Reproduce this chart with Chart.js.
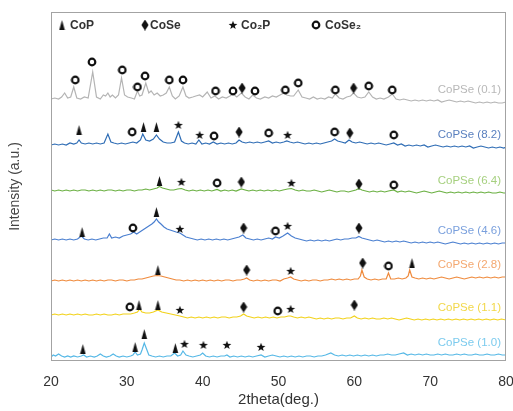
<!DOCTYPE html>
<html lang="en">
<head>
<meta charset="UTF-8">
<title>XRD CoPSe</title>
<script src="https://cdn.jsdelivr.net/npm/chart.js"></script>
<style>
  html, body { margin: 0; padding: 0; background: #fff; }
  #wrap { width: 513px; height: 411px; }
</style>
</head>
<body>
<div id="wrap"><canvas id="xrd" width="513" height="411"></canvas></div>
<script>
// series names (top to bottom)
const seriesNames = ['CoPSe (0.1)', 'CoPSe (8.2)', 'CoPSe (6.4)', 'CoPSe (4.6)', 'CoPSe (2.8)', 'CoPSe (1.1)', 'CoPSe (1.0)'];
const lineColors  = ['#b4b4b4', '#2f6db5', '#6bb043', '#4a7fd0', '#ef8a3c', '#f2d21b', '#55b8e6'];
const labelColors = ['#b8b8b8', '#5a80bf', '#a6d07f', '#7aa0dd', '#f4a870', '#f2d84a', '#7ccbee'];
const phaseNames = ['CoP', 'CoSe', 'Co\u2082P', 'CoSe\u2082'];

// [2theta, intensity (a.u., already stacked)]
const copse01 = [[20,262],[20.5,263],[21,262],[21.4,264],[21.8,268],[22.2,263],[22.6,264],[23,274],[23.4,263],[23.9,262],[24.4,264],[24.9,263],[25.5,289],[26,264],[26.5,262],[26.9,266],[27.2,265],[27.5,268],[27.8,264],[28.1,266],[28.5,263],[28.9,266],[29.3,283],[29.7,266],[30.1,264],[30.6,263],[31,262],[31.4,270],[31.7,265],[32,266],[32.5,278],[32.9,268],[33.2,270],[33.6,266],[34,268],[34.4,265],[34.8,266],[35.2,268],[35.6,274],[36,265],[36.4,262],[36.9,265],[37.4,274],[37.8,265],[38.2,263],[38.7,264],[39.1,265],[39.6,266],[40,264],[40.6,269],[41.1,263],[41.6,265],[42.1,262],[42.6,264],[43.1,263],[43.6,265],[44,267],[44.5,264],[45.1,268],[45.6,264],[46.1,262],[46.6,266],[47.1,263],[47.6,262],[48.2,264],[48.7,263],[49.2,265],[49.7,264],[50.2,266],[50.7,268],[51.1,266],[51.6,265],[52,265],[52.6,271],[53.1,264],[53.6,263],[54.1,262],[54.6,264],[55.1,262],[55.6,263],[56.1,262],[56.6,264],[57.1,263],[57.5,267],[58,263],[58.5,262],[59,264],[59.5,265],[59.9,268],[60.4,264],[60.9,263],[61.4,264],[61.9,269],[62.4,264],[62.9,262],[63.4,263],[63.9,262],[64.5,264],[65,267],[65.5,262],[66,261],[66.5,262],[67,261],[67.5,260],[68,261],[68.5,260],[69,261],[69.5,260],[70,261],[70.5,260],[71,261],[71.5,259],[72,260],[72.5,261],[73,260],[73.5,259],[74,260],[74.5,259],[75,260],[75.5,259],[76,258],[76.5,259],[77,258],[77.5,259],[78,258],[78.5,259],[79,258],[79.5,258],[80,259]];
const copse82 = [[20,216],[20.5,217],[21,216],[21.5,217],[22,216],[22.5,218],[23,217],[23.4,218],[23.7,221],[24,218],[24.5,217],[25,218],[25.5,217],[26,218],[26.5,217],[27,218],[27.5,227],[27.9,219],[28.3,218],[28.8,217],[29.3,218],[29.8,217],[30.3,218],[30.8,219],[31.3,218],[31.8,221],[32.1,227],[32.5,221],[33,220],[33.5,222],[33.9,226],[34.3,222],[34.8,219],[35.3,218],[35.8,218],[36.3,219],[36.8,229],[37.2,220],[37.6,218],[38.1,217],[38.6,218],[39.1,217],[39.5,221],[39.9,217],[40.4,218],[40.9,217],[41.4,219],[41.9,217],[42.4,218],[42.9,217],[43.4,218],[43.9,217],[44.4,218],[44.8,221],[45.2,219],[45.7,218],[46.2,219],[46.7,218],[47.2,219],[47.7,218],[48.2,219],[48.7,220],[49.2,218],[49.7,219],[50.2,218],[50.7,219],[51.1,220],[51.5,219],[52,218],[52.5,219],[53,218],[53.5,217],[54,218],[54.5,217],[55,218],[55.5,217],[56,218],[56.5,219],[57,220],[57.4,222],[57.8,220],[58.3,219],[58.8,218],[59.3,221],[59.7,219],[60.2,218],[60.7,219],[61.2,218],[61.7,217],[62.2,218],[62.7,217],[63.2,218],[63.7,217],[64.2,216],[64.7,217],[65.2,218],[65.7,216],[66.2,217],[66.7,215],[67.2,216],[67.7,215],[68.2,216],[68.7,215],[69.2,216],[69.7,214],[70.2,215],[70.7,216],[71.2,215],[71.7,214],[72.2,215],[72.7,214],[73.2,215],[73.7,214],[74.2,215],[74.7,214],[75.2,215],[75.7,213],[76.2,214],[76.7,215],[77.2,214],[77.7,213],[78.2,214],[78.7,213],[79.2,214],[79.7,213],[80,214]];
const copse64 = [[20,171],[20.5,170],[21,171],[21.5,170],[22,171],[22.5,170],[23,171],[23.5,170],[24,171],[24.5,171],[25,170],[25.5,171],[26,170],[26.5,171],[27,170],[27.5,171],[28,171],[28.5,170],[29,171],[29.5,170],[30,171],[30.5,171],[31,170],[31.5,171],[32,171],[32.5,172],[33,171],[33.5,172],[34,173],[34.3,174.5],[34.7,173],[35.2,172],[35.7,171],[36.2,171],[36.7,172],[37.2,172.5],[37.7,171],[38.2,170],[38.7,171],[39.2,170],[39.7,171],[40.2,170],[40.7,171],[41.2,170],[41.9,171.5],[42.4,170],[42.9,171],[43.4,170],[43.9,171],[44.4,170],[45.1,172],[45.6,171],[46.1,170],[46.6,171],[47.1,170],[47.6,171],[48.1,170],[48.6,171],[49.1,170],[49.6,171],[50.1,170],[50.6,171],[51.2,172],[51.7,172.5],[52.2,171],[52.7,170],[53.2,171],[53.7,170],[54.2,170],[54.7,171],[55.2,170],[55.7,169],[56.2,170],[56.7,171],[57.2,170],[57.7,169],[58.2,170],[58.7,170],[59.2,169],[59.7,170],[60.2,171],[60.6,172.5],[61,171],[61.5,170],[62,169],[62.5,170],[63,169],[63.5,170],[64,169],[64.5,170],[65.2,171],[65.7,169],[66.2,170],[66.7,169],[67.2,170],[67.7,169],[68.2,168],[68.7,169],[69.2,170],[69.7,169],[70.2,168],[70.7,169],[71.2,170],[71.7,169],[72.2,168],[72.7,169],[73.2,168],[73.7,169],[74.2,168],[74.7,169],[75.2,168],[75.7,169],[76.2,168],[76.7,169],[77.2,168],[77.7,169],[78.2,168],[78.7,168],[79.2,169],[79.7,168],[80,168]];
const copse46 = [[20,121],[20.5,122],[21,121],[21.5,122],[22,121],[22.5,122],[23,121],[23.5,122],[24,125],[24.4,122],[24.9,121],[25.4,122],[25.9,121],[26.4,122],[26.9,123],[27.4,123],[27.7,127],[28,123],[28.5,124],[29,123],[29.5,125],[30,126],[30.5,127],[30.9,129],[31.3,127],[31.7,129],[32.1,131],[32.5,133],[32.9,135],[33.3,137],[33.6,139],[33.9,142],[34.2,139],[34.5,137],[34.9,134],[35.3,132],[35.7,131],[36.1,130],[36.5,129],[37,128],[37.4,126],[37.8,124],[38.3,123],[38.8,122],[39.3,121],[39.8,122],[40.3,121],[40.8,122],[41.3,121],[41.8,122],[42.3,121],[42.8,122],[43.3,121],[43.8,122],[44.3,123],[44.8,124],[45.3,126],[45.7,123],[46.2,122],[46.7,121],[47.2,122],[47.7,121],[48.2,122],[48.7,123],[49.2,122],[49.6,124],[50.1,123],[50.6,125],[51.2,128],[51.7,125],[52.2,123],[52.7,122],[53.2,121],[53.7,120],[54.2,121],[54.7,120],[55.2,121],[55.7,120],[56.2,121],[56.7,120],[57.2,121],[57.7,122],[58.2,121],[58.7,122],[59.2,122],[59.7,123],[60.2,123],[60.6,124.5],[61,123],[61.5,122],[62,121],[62.5,120],[63,121],[63.5,120],[64,119],[64.5,120],[65,119],[65.5,120],[66,119],[66.5,120],[67,119],[67.5,118],[68,119],[68.5,118],[69,119],[69.5,118],[70,119],[70.5,118],[71,119],[71.5,118],[72,117],[72.5,118],[73,119],[73.5,118],[74,117],[74.5,118],[75,117],[75.5,118],[76,117],[76.5,118],[77,117],[77.5,118],[78,117],[78.5,118],[79,117],[79.5,118],[80,118]];
const copse28 = [[20,80],[20.5,81],[21,80],[21.5,81],[22,80],[22.5,81],[23,80],[23.5,81],[24,80],[24.5,81],[25,80],[25.5,81],[26,80],[26.5,81],[27,80],[27.5,81],[28,81],[28.5,80],[29,81],[29.5,81],[30,80],[30.5,81],[31,81],[31.5,82],[32,82],[32.5,83],[33,84],[33.5,85],[34,85.5],[34.5,85],[35,84],[35.5,83],[36,82],[36.5,81],[37,81],[37.5,80],[38,81],[38.5,80],[39,81],[39.5,80],[40,81],[40.5,80],[41,81],[41.5,80],[42,81],[42.5,80],[43,81],[43.5,81],[44,80],[44.5,81],[45,81],[45.5,82],[45.8,83],[46.2,81],[46.7,80],[47.2,81],[47.7,80],[48.2,81],[48.7,80],[49.2,81],[49.7,81],[50.2,80],[50.7,82],[51.2,83],[51.6,84],[52,82],[52.5,81],[53,80],[53.5,81],[54,80],[54.5,81],[55,81],[55.5,80],[56,81],[56.5,81],[57,82],[57.5,81],[58,82],[58.5,81],[59,82],[59.5,81],[60,82],[60.5,82],[60.8,85],[61,91],[61.3,84],[61.7,82],[62.2,81],[62.7,82],[63.2,81],[63.7,82],[64.2,82],[64.5,88],[64.8,82],[65.3,82],[65.8,83],[66.3,82],[66.8,83],[67.1,85],[67.3,91],[67.6,84],[68,83],[68.5,82],[69,83],[69.5,82],[70,83],[70.5,82],[71,83],[71.5,84],[72,83],[72.5,82],[73,83],[73.5,84],[74,83],[74.5,82],[75,83],[75.5,84],[76,83],[76.5,84],[77,83],[77.5,84],[78,83],[78.5,84],[79,83],[79.5,84],[80,84]];
const copse11 = [[20,46],[20.5,47],[21,46],[21.5,47],[22,46],[22.5,47],[23,46],[23.5,47],[24,46],[24.5,47],[25,46],[25.5,46],[26,47],[26.5,46],[27,47],[27.5,46],[28,46],[28.5,47],[29,46],[29.5,47],[30,47],[30.5,47],[31,48],[31.4,49],[31.7,52],[32,49],[32.5,48],[33,48],[33.5,49],[34.1,51],[34.6,49],[35.2,48],[35.8,47],[36.4,46],[37,45],[37.5,44],[38,43],[38.5,44],[39,43],[39.5,44],[40,43],[40.5,44],[41,43],[41.5,44],[42,43],[42.5,44],[43,44],[43.5,43],[44,44],[44.5,44],[45,45],[45.4,47],[45.8,45],[46.3,44],[46.8,43],[47.3,44],[47.8,43],[48.3,44],[48.8,43],[49.3,44],[49.8,43],[50.3,44],[50.8,44],[51.3,45],[51.6,45],[52,44],[52.5,43],[53,44],[53.5,43],[54,44],[54.5,43],[55,42],[55.5,43],[56,42],[56.5,43],[57,42],[57.5,43],[58,43],[58.5,42],[59,43],[59.5,43],[60,45],[60.4,43],[60.9,42],[61.4,43],[61.9,42],[62.4,43],[62.9,42],[63.4,42],[63.9,43],[64.4,42],[64.9,43],[65.4,42],[65.9,41],[66.4,42],[66.9,43],[67.4,42],[67.9,41],[68.4,42],[68.9,41],[69.4,42],[69.9,41],[70.4,42],[70.9,41],[71.4,42],[71.9,41],[72.4,42],[72.9,41],[73.4,42],[73.9,41],[74.4,42],[74.9,41],[75.4,42],[75.9,41],[76.4,42],[76.9,41],[77.4,42],[77.9,41],[78.4,42],[78.9,41],[79.4,42],[80,41]];
const copse10 = [[20,4],[20.3,6],[20.6,5],[21,7],[21.4,5],[21.8,4],[22.2,5],[22.6,4],[23,5],[23.5,4],[24,5],[24.3,6],[24.7,4],[25.2,5],[25.7,4],[26.1,5],[26.5,7],[26.9,5],[27.3,4],[27.8,5],[28.2,7],[28.6,5],[29,4],[29.5,5],[30,4],[30.5,5],[30.8,6],[31.1,9],[31.4,6],[31.8,7],[32,11],[32.3,18],[32.6,12],[32.9,6],[33.3,5],[33.8,4],[34.3,5],[34.8,4],[35.3,5],[35.8,5],[36.3,8],[36.7,5],[37.1,6],[37.4,10],[37.8,6],[38.2,5],[38.7,4],[39.2,5],[39.7,6],[40,8],[40.4,5],[40.9,4],[41.4,5],[41.9,4],[42.4,5],[42.9,5],[43.2,6],[43.6,4],[44.1,5],[44.6,4],[45.1,5],[45.6,4],[46.1,5],[46.6,4],[47.1,5],[47.7,6],[48.2,4],[48.7,5],[49.2,6],[49.7,5],[50.2,4],[50.7,5],[51.2,4],[51.7,5],[52.2,4],[52.7,5],[53.2,4],[53.7,5],[54.2,5],[54.7,4],[55.2,5],[55.7,5],[56.2,6],[56.9,8],[57.4,6],[57.9,5],[58.4,6],[58.9,5],[59.4,6],[59.9,5],[60.4,6],[60.9,5],[61.4,6],[61.9,5],[62.4,6],[62.9,5],[63.4,6],[63.9,6],[64.4,7],[64.9,6],[65.4,6],[65.9,7],[66.5,8],[67,6],[67.5,7],[68,6],[68.5,7],[69,6],[69.5,7],[70,6],[70.5,6],[71,7],[71.5,6],[72,7],[72.5,6],[73,6],[73.5,7],[74,6],[74.5,7],[75,6],[75.5,6],[76,7],[76.5,6],[77,6],[77.5,7],[78,6],[78.5,6],[79,7],[79.5,6],[80,6]];

// phase markers [2theta, height]
const copPeaks  = [[23.7,231],[32.2,234],[33.9,234],[34.3,180],[24.1,129],[33.9,149],[34.1,91],[67.6,98],[31.6,56],[34.1,56],[24.2,12],[31.1,14],[32.3,27],[36.4,13]];
const cosePeaks = [[45.2,273],[59.9,273],[44.8,229],[59.4,228],[45.1,179],[60.6,177],[45.4,133],[60.6,133],[45.8,91],[61.1,98],[45.4,54],[60.0,56]];
const co2pPeaks = [[36.8,236],[39.6,226],[51.2,226],[37.2,179],[51.7,178],[37.0,132],[51.2,135],[51.6,90],[37.0,51],[51.6,52],[37.6,17],[40.1,16],[43.2,16],[47.7,14]];
const cose2Peaks = [[23.2,281],[25.4,299],[29.4,291],[31.4,274],[32.4,285],[35.6,281],[37.4,281],[41.7,270],[44.0,270],[46.9,270],[50.9,271],[52.6,278],[57.5,271],[61.9,275],[65.0,271],
  [30.7,229],[41.5,225],[48.7,228],[57.4,229],[65.2,226],[41.9,178],[65.2,176],[30.8,133],[49.6,130],[64.5,95],[30.4,54],[49.9,50]];

const traces = [copse01, copse82, copse64, copse46, copse28, copse11, copse10];

// marker glyphs
function glyph(w, h, draw) {
  const c = document.createElement('canvas');
  c.width = w; c.height = h;
  const g = c.getContext('2d');
  g.fillStyle = '#111'; g.strokeStyle = '#111';
  draw(g);
  return c;
}
const triIcon = glyph(7, 10, g => { g.beginPath(); g.moveTo(3.5, 0); g.lineTo(6.3, 10); g.lineTo(0.7, 10); g.closePath(); g.fill(); });
const diaIcon = glyph(8, 11, g => { g.beginPath(); g.moveTo(4, 0); g.lineTo(7.6, 5.5); g.lineTo(4, 11); g.lineTo(0.4, 5.5); g.closePath(); g.fill(); });
const starIcon = glyph(10, 10, g => {
  g.beginPath();
  for (let i = 0; i < 10; i++) {
    const r = i % 2 ? 1.9 : 4.6, a = -Math.PI / 2 + i * Math.PI / 5;
    g.lineTo(5 + r * Math.cos(a), 5.3 + r * Math.sin(a));
  }
  g.closePath(); g.fill();
});
const ringIcon = glyph(10, 10, g => { g.lineWidth = 2.2; g.beginPath(); g.arc(5, 5, 3.3, 0, Math.PI * 2); g.stroke(); });
const icons = [triIcon, diaIcon, starIcon, ringIcon];

const font = '"Liberation Sans", Arial, sans-serif';
Chart.defaults.font.family = font;

const overlay = {
  id: 'overlay',
  afterDraw(chart) {
    const {ctx, chartArea: a, scales: {y}} = chart;
    ctx.save();
    ctx.strokeStyle = '#a3a3a3';
    ctx.lineWidth = 1;
    ctx.strokeRect(a.left + 0.5, a.top + 0.5, a.width - 1, a.height - 1);

    // sample names on the right
    ctx.font = '11.5px ' + font;
    ctx.textAlign = 'right';
    ctx.textBaseline = 'middle';
    traces.forEach((t, i) => {
      ctx.fillStyle = labelColors[i];
      ctx.fillText(seriesNames[i], a.right - 5, y.getPixelForValue(t[t.length - 1][1]) - 12);
    });

    // phase key along the top
    const keyX = [11, 94, 182, 265];
    const gap = [8, 5, 8, 9];
    ctx.textAlign = 'left';
    ctx.fillStyle = '#333';
    ctx.font = 'bold 12px ' + font;
    phaseNames.forEach((n, i) => {
      const cx = a.left + keyX[i], cy = a.top + 13;
      ctx.drawImage(icons[i], cx - icons[i].width / 2, cy - icons[i].height / 2);
      ctx.fillText(n, cx + gap[i], cy + 1);
    });

    // y title
    ctx.translate(15, (a.top + a.bottom) / 2);
    ctx.rotate(-Math.PI / 2);
    ctx.textAlign = 'center';
    ctx.fillStyle = '#444';
    ctx.font = '14px ' + font;
    ctx.fillText('Intensity (a.u.)', 0, 0);
    ctx.restore();
  }
};

const lineSets = traces.map((t, i) => ({
  label: seriesNames[i], data: t, borderColor: lineColors[i], borderWidth: 1.2,
  pointRadius: 0, tension: 0, order: 2
}));
const markSets = [copPeaks, cosePeaks, co2pPeaks, cose2Peaks].map((p, i) => ({
  label: phaseNames[i], data: p, showLine: false, pointStyle: icons[i],
  pointRadius: 5, order: 1
}));

new Chart(document.getElementById('xrd'), {
  type: 'line',
  data: { datasets: lineSets.concat(markSets) },
  options: {
    responsive: false,
    animation: false,
    events: [],
    layout: { padding: { left: 51, right: 7, top: 12, bottom: 0 } },
    plugins: { legend: { display: false }, tooltip: { enabled: false } },
    scales: {
      x: {
        type: 'linear', min: 20, max: 80,
        grid: { display: false, drawTicks: false },
        border: { display: false },
        ticks: { stepSize: 10, padding: 13, color: '#333', font: { size: 14 } },
        title: { display: true, text: '2theta(deg.)', color: '#333', font: { size: 15 }, padding: { top: 0, bottom: 2 } },
        afterFit: s => { s.height = 50; s.paddingLeft = 0; s.paddingRight = 0; }
      },
      y: { display: false, min: 0, max: 349 }
    }
  },
  plugins: [overlay]
});
</script>
</body>
</html>
